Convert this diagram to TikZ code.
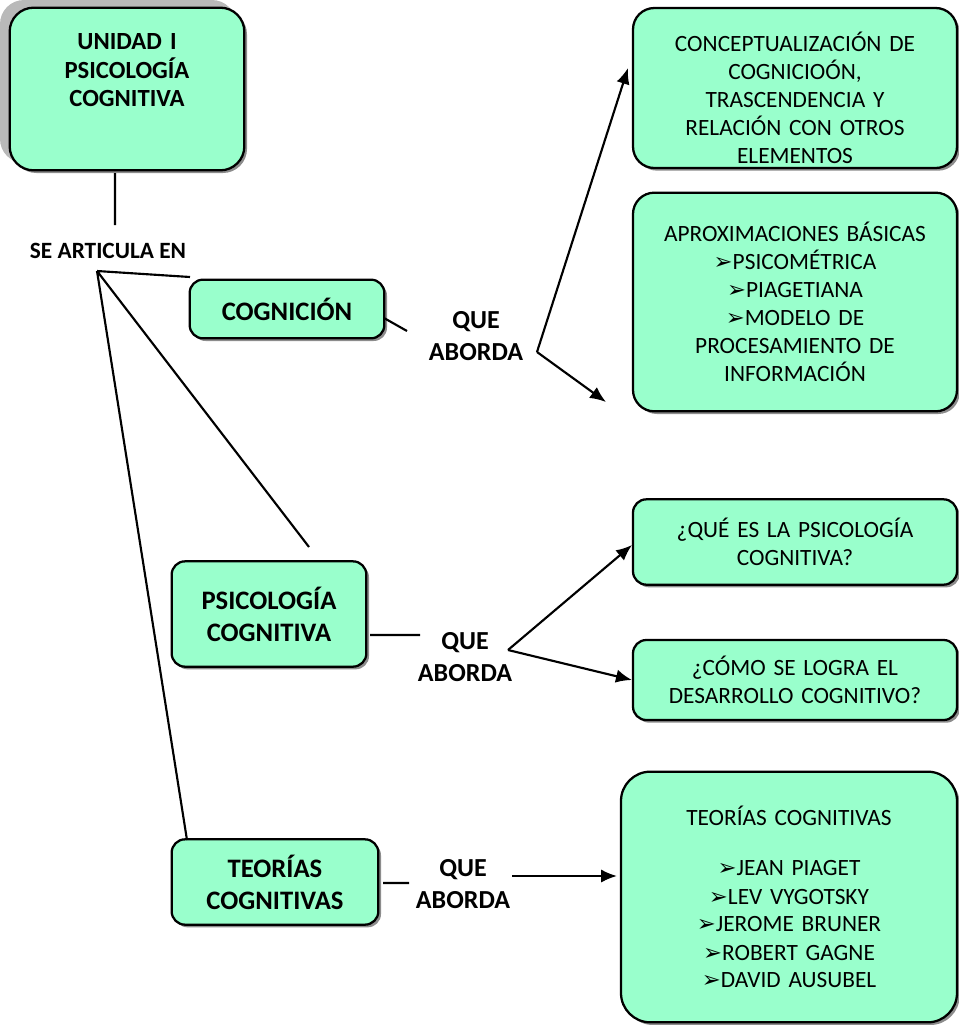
\documentclass[tikz,border=0pt]{standalone}
\usepackage{fontspec}
\setmainfont{Carlito}
\newfontfamily\dejavu{DejaVu Sans}
\usetikzlibrary{arrows.meta,shadows}
\definecolor{menta}{RGB}{153,255,204}
\tikzstyle{caja} = [draw, line width=1.7pt, fill=menta, rounded corners=16pt, align=center, inner xsep=0pt,
  drop shadow={shadow xshift=2pt, shadow yshift=-2pt, fill=black, opacity=0.45},
  font=\fontsize{17.5}{21}\selectfont]
\tikzstyle{titulo} = [caja, rounded corners=10pt, font=\bfseries\fontsize{20}{24}\selectfont]
\tikzstyle{etiq} = [align=center, font=\bfseries\fontsize{19.5}{24}\selectfont]
\tikzstyle{edge} = [draw, line width=1.6pt]
\tikzstyle{flechita} = [edge, -{Latex[length=12pt,width=10pt]}]
\newcommand{\flecha}{{\dejavu\fontsize{17}{21}\selectfont\char"27A2}}

\begin{document}
\begin{tikzpicture}[x=0.75pt, y=-0.75pt]
    \useasboundingbox (0,0) rectangle (959,1025);
    % sombra gris de la unidad
    \fill[gray!55, rounded corners=18pt] (0,0) rectangle (236,163);
    \node[titulo, rounded corners=18pt, text width=176pt, minimum height=122pt, text depth=71pt,
          font=\bfseries\fontsize{18.5}{21.5}\selectfont] (unidad) at (127,89)
        {UNIDAD I\\PSICOLOGÍA\\COGNITIVA};
    \node[etiq, font=\bfseries\fontsize{17.5}{20}\selectfont] (articula) at (108,251) {SE ARTICULA EN};
    \coordinate (v1) at (115,173);
    \coordinate (v2) at (115,225);
    \coordinate (art) at (97,271);

    % temas
    \node[titulo, text width=146pt, minimum height=44pt] (cog) at (287,309) {COGNICIÓN};
    \node[titulo, text width=146pt, minimum height=79pt] (psico) at (269,614) {PSICOLOGÍA\\COGNITIVA};
    \node[titulo, text width=155pt, minimum height=64pt] (teo) at (275,882) {TEORÍAS\\COGNITIVAS};

    % que aborda
    \node[etiq] (qa1) at (476,336) {QUE\\ABORDA};
    \node[etiq] (qa2) at (465,657) {QUE\\ABORDA};
    \node[etiq] (qa3) at (463,884) {QUE\\ABORDA};

    % contenidos
    \node[caja, inner ysep=0pt, text width=243pt, minimum height=120pt] (concepto) at (795,88)
        {\rule{0pt}{30pt}CONCEPTUALIZACIÓN DE\\COGNICIOÓN,\\TRASCENDENCIA Y\\RELACIÓN CON OTROS\\ELEMENTOS};
    \node[caja, text width=243pt, minimum height=164pt] (aprox) at (795,302)
        {APROXIMACIONES BÁSICAS\\\flecha PSICOMÉTRICA\\\flecha PIAGETIANA\\\flecha MODELO DE\\PROCESAMIENTO DE\\INFORMACIÓN};
    \node[caja, rounded corners=10pt, text width=243pt, minimum height=64pt] (quees) at (795,542)
        {¿QUÉ ES LA PSICOLOGÍA\\COGNITIVA?};
    \node[caja, rounded corners=10pt, text width=243pt, minimum height=60pt] (como) at (795,680)
        {¿CÓMO SE LOGRA EL\\DESARROLLO COGNITIVO?};
    \node[caja, rounded corners=22pt, text width=252pt, minimum height=188pt] (lista) at (789,897)
        {TEORÍAS COGNITIVAS\\[17pt]\flecha JEAN PIAGET\\\flecha LEV VYGOTSKY\\\flecha JEROME BRUNER\\\flecha ROBERT GAGNE\\\flecha DAVID AUSUBEL};

    % extremos libres
    \coordinate (c1) at (190,277);
    \coordinate (c2) at (309,547);
    \coordinate (c3) at (187,840);
    \coordinate (a1) at (384,318);
    \coordinate (a2) at (407,331);
    \coordinate (b1) at (537,352);
    \coordinate (p1) at (628,68);
    \coordinate (p2) at (606,402);
    \coordinate (d1) at (370,635);
    \coordinate (d2) at (420,635);
    \coordinate (e1) at (508,650);
    \coordinate (q1) at (632,545);
    \coordinate (q2) at (632,680);
    \coordinate (f1) at (383,883);
    \coordinate (f2) at (409,883);
    \coordinate (g1) at (512,876);
    \coordinate (g2) at (617,876);

    \draw[edge]
    (v1) -- (v2)
    (art) -- (c1)
    (art) -- (c2)
    (art) -- (c3)
    (a1) -- (a2)
    (d1) -- (d2)
    (f1) -- (f2)
    ;
    \draw[flechita] (b1) -- (p1);
    \draw[flechita] (b1) -- (p2);
    \draw[flechita] (e1) -- (q1);
    \draw[flechita] (e1) -- (q2);
    \draw[flechita] (g1) -- (g2);
\end{tikzpicture}
\end{document}
